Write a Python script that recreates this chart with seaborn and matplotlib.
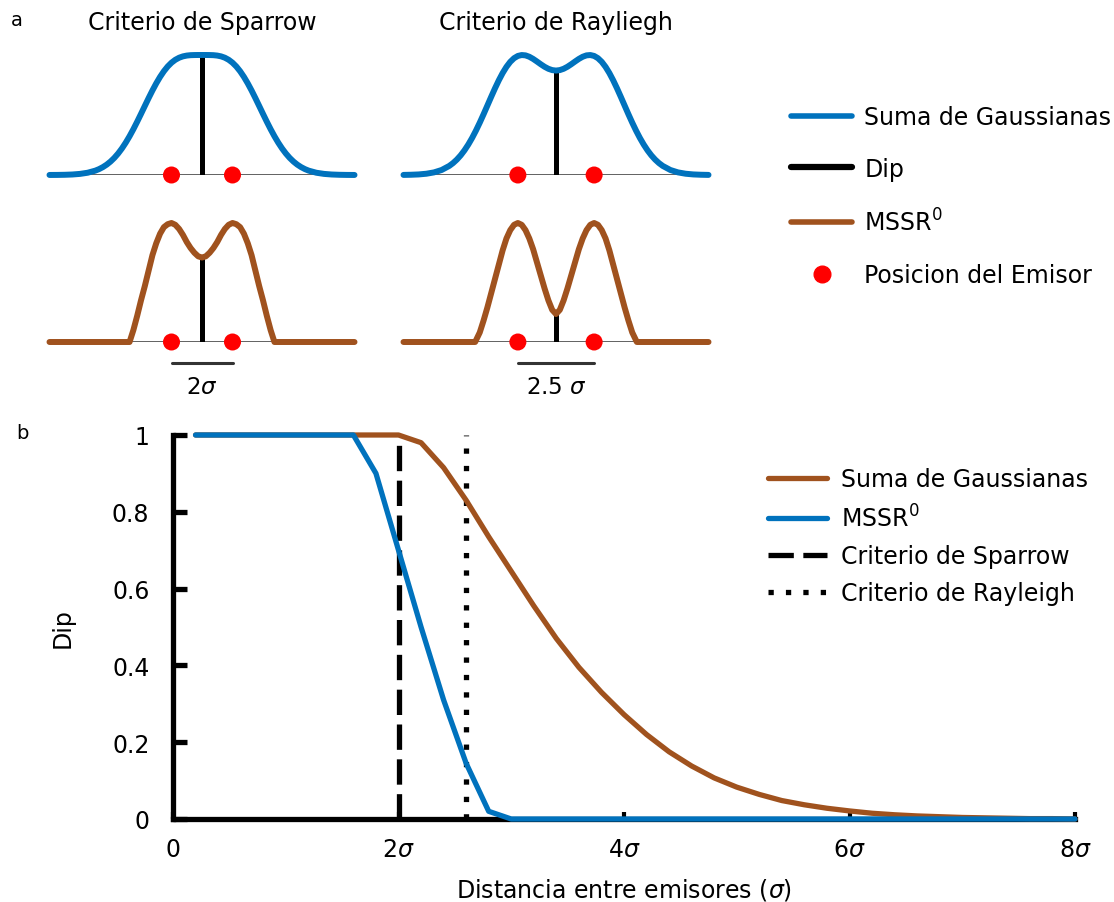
import numpy as np
import pandas as pd
import matplotlib
matplotlib.use('Agg')
import matplotlib.pyplot as plt
from matplotlib.lines import Line2D
import seaborn as sns

BLUE = '#0072BD'
BROWN = '#A0521E'

# ---- panel a: intensity profiles (x in units of sigma) ----
x_gauss = [-5.0, -4.75, -4.5, -4.25, -4.0, -3.75, -3.5, -3.375, -3.25, -3.125,
           -3.0, -2.875, -2.75, -2.625, -2.5, -2.375, -2.25, -2.125, -2.0,
           -1.875, -1.75, -1.625, -1.5, -1.375, -1.25, -1.125, -1.0, -0.875,
           -0.75, -0.625, -0.5, -0.375, -0.25, -0.125, 0.0, 0.125, 0.25, 0.375,
           0.5, 0.625, 0.75, 0.875, 1.0, 1.125, 1.25, 1.375, 1.5, 1.625, 1.75,
           1.875, 2.0, 2.125, 2.25, 2.375, 2.5, 2.625, 2.75, 2.875, 3.0, 3.125,
           3.25, 3.375, 3.5, 3.75, 4.0, 4.25, 4.5, 4.75, 5.0]
gauss_sparrow = [0.0003, 0.0007, 0.0018, 0.0042, 0.0092, 0.0188, 0.0362, 0.0491,
                 0.0657, 0.0863, 0.1118, 0.1425, 0.1790, 0.2213, 0.2695, 0.3231,
                 0.3816, 0.4441, 0.5091, 0.5753, 0.6410, 0.7044, 0.7637, 0.8175,
                 0.8646, 0.9042, 0.9359, 0.9601, 0.9773, 0.9886, 0.9952, 0.9985,
                 0.9996, 1.0, 1.0, 1.0, 0.9996, 0.9985, 0.9952, 0.9886, 0.9773,
                 0.9601, 0.9359, 0.9042, 0.8646, 0.8175, 0.7637, 0.7044, 0.6410,
                 0.5753, 0.5091, 0.4441, 0.3816, 0.3231, 0.2695, 0.2213, 0.1790,
                 0.1425, 0.1118, 0.0863, 0.0657, 0.0491, 0.0362, 0.0188, 0.0092,
                 0.0042, 0.0018, 0.0007, 0.0003]
gauss_rayleigh = [0.0008, 0.0021, 0.0048, 0.0106, 0.0217, 0.0417, 0.0757, 0.0994,
                  0.1286, 0.1639, 0.2057, 0.2541, 0.3089, 0.3698, 0.4360, 0.5061,
                  0.5786, 0.6514, 0.7223, 0.7891, 0.8494, 0.9011, 0.9429, 0.9734,
                  0.9922, 0.9997, 0.9969, 0.9854, 0.9674, 0.9457, 0.9230, 0.9020,
                  0.8851, 0.8742, 0.8703, 0.8742, 0.8851, 0.9020, 0.9230, 0.9457,
                  0.9674, 0.9854, 0.9969, 0.9997, 0.9922, 0.9734, 0.9429, 0.9011,
                  0.8494, 0.7891, 0.7223, 0.6514, 0.5786, 0.5061, 0.4360, 0.3698,
                  0.3089, 0.2541, 0.2057, 0.1639, 0.1286, 0.0994, 0.0757, 0.0417,
                  0.0217, 0.0106, 0.0048, 0.0021, 0.0008]
x_mssr_sparrow = [-5.0, -2.375, -2.25, -2.125, -2.0, -1.875, -1.75, -1.625, -1.5,
                  -1.375, -1.25, -1.125, -1.0, -0.875, -0.75, -0.625, -0.5,
                  -0.375, -0.25, -0.125, 0.0, 0.125, 0.25, 0.375, 0.5, 0.625,
                  0.75, 0.875, 1.0, 1.125, 1.25, 1.375, 1.5, 1.625, 1.75, 1.875,
                  2.0, 2.125, 2.25, 2.375, 5.0]
mssr_sparrow = [0.0, 0.0, 0.10, 0.22, 0.35, 0.47, 0.60, 0.73, 0.83, 0.91, 0.965,
                0.99, 1.0, 0.985, 0.95, 0.90, 0.84, 0.79, 0.75, 0.72, 0.71, 0.72,
                0.75, 0.79, 0.84, 0.90, 0.95, 0.985, 1.0, 0.99, 0.965, 0.91, 0.83,
                0.73, 0.60, 0.47, 0.35, 0.22, 0.10, 0.0, 0.0]
x_mssr_rayleigh = [-5.0, -2.65, -2.5, -2.375, -2.25, -2.125, -2.0, -1.875, -1.75,
                   -1.625, -1.5, -1.375, -1.25, -1.125, -1.0, -0.875, -0.75,
                   -0.625, -0.5, -0.375, -0.25, -0.125, 0.0, 0.125, 0.25, 0.375,
                   0.5, 0.625, 0.75, 0.875, 1.0, 1.125, 1.25, 1.375, 1.5, 1.625,
                   1.75, 1.875, 2.0, 2.125, 2.25, 2.375, 2.5, 2.65, 5.0]
mssr_rayleigh = [0.0, 0.0, 0.08, 0.18, 0.29, 0.41, 0.53, 0.65, 0.77, 0.87, 0.94,
                 0.985, 1.0, 0.985, 0.94, 0.87, 0.78, 0.67, 0.56, 0.45, 0.35,
                 0.27, 0.235, 0.27, 0.35, 0.45, 0.56, 0.67, 0.78, 0.87, 0.94,
                 0.985, 1.0, 0.985, 0.94, 0.87, 0.77, 0.65, 0.53, 0.41, 0.29,
                 0.18, 0.08, 0.0, 0.0]
emitters_sparrow = [-1.0, 1.0]
emitters_rayleigh = [-1.25, 1.25]
dip_values = [1.0, 0.87, 0.71, 0.235]   # TL, TR, BL, BR
titles = ['Criterio de Sparrow', 'Criterio de Rayliegh']
scale_labels = [r'$2\sigma$', r'2.5 $\sigma$']

# ---- panel b: dip vs distance ----
dist = [0.2, 0.4, 0.6, 0.8, 1.0, 1.2, 1.4, 1.6, 1.8, 2.0, 2.2, 2.4, 2.6, 2.8,
        3.0, 3.2, 3.4, 3.6, 3.8, 4.0, 4.2, 4.4, 4.6, 4.8, 5.0, 5.2, 5.4, 5.6,
        5.8, 6.0, 6.2, 6.4, 6.6, 6.8, 7.0, 7.2, 7.4, 7.6, 7.8, 8.0]
dip_gauss = [1.0, 1.0, 1.0, 1.0, 1.0, 1.0, 1.0, 1.0, 1.0, 1.0, 0.98, 0.915,
             0.83, 0.735, 0.645, 0.555, 0.47, 0.395, 0.330, 0.272, 0.220, 0.175,
             0.138, 0.107, 0.083, 0.064, 0.048, 0.037, 0.028, 0.021, 0.015,
             0.011, 0.008, 0.006, 0.004, 0.003, 0.002, 0.001, 0.001, 0.0]
dip_mssr = [1.0, 1.0, 1.0, 1.0, 1.0, 1.0, 1.0, 1.0, 0.90, 0.70, 0.50, 0.31,
            0.145, 0.02, 0.0, 0.0, 0.0, 0.0, 0.0, 0.0, 0.0, 0.0, 0.0, 0.0, 0.0,
            0.0, 0.0, 0.0, 0.0, 0.0, 0.0, 0.0, 0.0, 0.0, 0.0, 0.0, 0.0, 0.0,
            0.0, 0.0]
sparrow_limit = 2.0
rayleigh_limit = 2.6
xticks_b = [0, 2, 4, 6, 8]
xticklabels_b = ['0', r'$2\sigma$', r'$4\sigma$', r'$6\sigma$', r'$8\sigma$']
yticks_b = [0, 0.2, 0.4, 0.6, 0.8, 1.0]
yticklabels_b = ['0', '0.2', '0.4', '0.6', '0.8', '1']

sns.set_style('white')
plt.rcParams['font.family'] = ['DejaVu Sans']
plt.rcParams['mathtext.fontset'] = 'dejavusans'
for key in ['text.color', 'axes.labelcolor', 'xtick.color', 'ytick.color']:
    plt.rcParams[key] = 'black'

W, H = 1114, 903
fig = plt.figure(figsize=(W / 100, H / 100), dpi=100)


def px_axes(left, bottom, width, height):
    return fig.add_axes([left / W, 1 - bottom / H, width / W, height / H])


def profile_panel(ax, x, y, color, emitters, dip):
    ax.axhline(0, color='#333333', lw=1.8, zorder=1)
    ax.vlines(0, 0, dip, color='black', lw=3.6, zorder=2)
    sns.lineplot(x=x, y=y, ax=ax, color=color, lw=4.3, clip_on=False,
                 zorder=3)
    sns.scatterplot(x=emitters, y=[0, 0], ax=ax, color='red', s=150,
                    edgecolor='none', zorder=5, clip_on=False)
    ax.set_xlim(-5, 5)
    ax.set_ylim(0, 1)
    ax.axis('off')


cols = [(49.5, 305), (403.5, 305)]
rows = [(176, 120), (343, 119)]
curves = [[(gauss_sparrow, x_gauss), (gauss_rayleigh, x_gauss)],
          [(mssr_sparrow, x_mssr_sparrow), (mssr_rayleigh, x_mssr_rayleigh)]]
emis = [emitters_sparrow, emitters_rayleigh]
for r, (base, h) in enumerate(rows):
    for c, (left, w) in enumerate(cols):
        ax = px_axes(left, base, w, h)
        yv, xv = curves[r][c]
        color = BLUE if r == 0 else BROWN
        profile_panel(ax, xv, yv, color, emis[c], dip_values[2 * r + c])
        if r == 0:
            ax.set_title(titles[c], fontsize=17, pad=19)
        else:
            ax.plot(emis[c], [-0.176, -0.176], color='#333333', lw=2.2,
                    clip_on=False)
            ax.text(0, -0.37, scale_labels[c], ha='center', va='center',
                    fontsize=16.5)

fig.text(17 / W, 1 - 20 / H, 'a', fontsize=14, ha='center', va='center')
fig.text(22 / W, 1 - 434 / H, 'b', fontsize=14, ha='center', va='center')

handles_a = [Line2D([], [], color=BLUE, lw=4),
             Line2D([], [], color='black', lw=4.5),
             Line2D([], [], color=BROWN, lw=4),
             Line2D([], [], color='red', marker='o', ls='none', markersize=12)]
labels_a = ['Suma de Gaussianas', 'Dip', 'MSSR$^0$', 'Posicion del Emisor']
fig.legend(handles_a, labels_a, loc='upper left',
           bbox_to_anchor=(791 / W, 1 - 106 / H), frameon=False, fontsize=17,
           handlelength=2.6, handletextpad=0.5, labelspacing=1.17,
           borderaxespad=0, borderpad=0, numpoints=1)

# ---- panel b ----
axb = px_axes(173, 820, 902, 384)
axb.axvline(sparrow_limit, 0, 1, color='black', lw=3.8,
            ls=(0, (4.8, 1.8)), label='Criterio de Sparrow', zorder=2)
axb.axvline(rayleigh_limit, 0, 1, color='black', lw=3.8,
            ls=(0, (1, 2.3)), label='Criterio de Rayleigh', zorder=2)
sns.lineplot(x=dist, y=dip_gauss, ax=axb, color=BROWN, lw=3.8,
             label='Suma de Gaussianas', clip_on=False, zorder=3)
sns.lineplot(x=dist, y=dip_mssr, ax=axb, color=BLUE, lw=3.8,
             label='MSSR$^0$', clip_on=False, zorder=3)
axb.set_xlim(0, 8)
axb.set_ylim(0, 1)
for s in ['top', 'right']:
    axb.spines[s].set_visible(False)
for s in ['left', 'bottom']:
    axb.spines[s].set_linewidth(3.8)
    axb.spines[s].set_color('black')
axb.set_xticks(xticks_b)
axb.set_xticklabels(xticklabels_b)
axb.set_yticks(yticks_b)
axb.set_yticklabels(yticklabels_b)
axb.tick_params(axis='y', left=True, direction='in', length=10, width=3.8,
                pad=17, labelsize=17)
axb.tick_params(axis='x', bottom=True, direction='in', length=5, width=3,
                pad=13, labelsize=17)
axb.set_xlabel(r'Distancia entre emisores ($\sigma$)', fontsize=17)
axb.set_ylabel('Dip', fontsize=17)
axb.xaxis.set_label_coords(0.5, -0.148)
axb.yaxis.set_label_coords(-0.109, 0.5)

h, l = axb.get_legend_handles_labels()
order = [l.index(k) for k in ['Suma de Gaussianas', 'MSSR$^0$',
                              'Criterio de Sparrow', 'Criterio de Rayleigh']]
axb.legend([h[i] for i in order], [l[i] for i in order], loc='upper left',
           bbox_to_anchor=(768 / W, 1 - 468 / H), bbox_transform=fig.transFigure,
           frameon=False, fontsize=17, handlelength=2.5, handletextpad=0.6,
           labelspacing=0.55, borderaxespad=0, borderpad=0)

fig.savefig('out.png', dpi=100)
